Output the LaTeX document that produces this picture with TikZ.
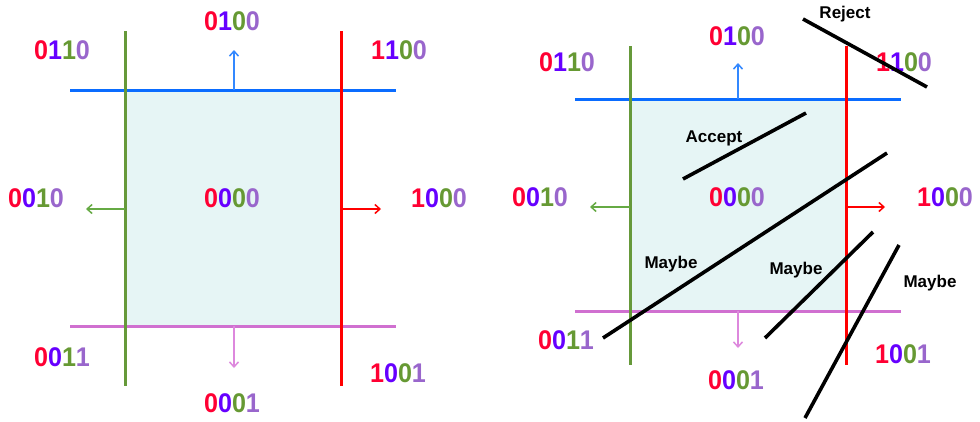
\documentclass[tikz,border=0pt]{standalone}
\usepackage{fontspec}
\setmainfont{Liberation Sans}
\usetikzlibrary{arrows.meta}
\definecolor{cRed}{HTML}{FF0033}
\definecolor{cBlue}{HTML}{6600FF}
\definecolor{cGreen}{HTML}{669933}
\definecolor{cPurple}{HTML}{9966CC}
\definecolor{lGreen}{HTML}{66993A}
\definecolor{lRed}{HTML}{FF0000}
\definecolor{lBlue}{HTML}{0A6CFF}
\definecolor{lPink}{HTML}{D070D0}
\definecolor{aBlue}{HTML}{3388FF}
\definecolor{aPink}{HTML}{DD88DD}
\definecolor{aGreen}{HTML}{66AA44}
\definecolor{regfill}{HTML}{E6F5F5}
\newcommand{\code}[4]{\textcolor{cRed}{#1}\textcolor{cBlue}{#2}\textcolor{cGreen}{#3}\textcolor{cPurple}{#4}}
\begin{document}
\begin{tikzpicture}[x=1pt,y=-1pt,
  codelbl/.style={font=\fontsize{27}{27}\selectfont\bfseries, inner sep=0pt, anchor=center, xscale=0.93},
  wordlbl/.style={font=\fontsize{17}{17}\selectfont\bfseries, inner sep=0pt, anchor=center},
  bound/.style={line width=3pt},
  outarrow/.style={line width=1.5pt, -{Straight Barb[length=5pt,width=9pt]}},
  seg/.style={line width=3.6pt, black}]
\useasboundingbox (0,0) rectangle (980,421);
% ---------- left panel ----------
\fill[regfill] (125,90) rectangle (341,326);
\coordinate (Lgt) at (125,31); \coordinate (Lgb) at (125,386);
\coordinate (Lrt) at (341,31); \coordinate (Lrb) at (341,386);
\coordinate (Lbl) at (70,90); \coordinate (Lbr) at (396,90);
\coordinate (Lpl) at (70,326); \coordinate (Lpr) at (396,326);
\draw[bound,lBlue] (Lbl) -- (Lbr);
\draw[bound,lPink] (Lpl) -- (Lpr);
\draw[bound,lGreen] (Lgt) -- (Lgb);
\draw[bound,lRed] (Lrt) -- (Lrb);
\coordinate (Lua) at (234,90); \coordinate (Lub) at (234,50);
\coordinate (Lda) at (234,326); \coordinate (Ldb) at (234,368);
\coordinate (Lla) at (125,209); \coordinate (Llb) at (86,209);
\coordinate (Lra) at (341,209); \coordinate (Lrb2) at (381,209);
\draw[outarrow,aBlue] (Lua) -- (Lub);
\draw[outarrow,aPink] (Lda) -- (Ldb);
\draw[outarrow,aGreen] (Lla) -- (Llb);
\draw[outarrow,lRed] (Lra) -- (Lrb2);
\node[codelbl] (L0100) at (232,21) {\code0100};
\node[codelbl] (L0110) at (62,50) {\code0110};
\node[codelbl] (L1100) at (399,50) {\code1100};
\node[codelbl] (L0010) at (36,198) {\code0010};
\node[codelbl] (L0000) at (232,198) {\code0000};
\node[codelbl] (L1000) at (439,198) {\code1000};
\node[codelbl] (L0011) at (62,357) {\code0011};
\node[codelbl] (L1001) at (398,373) {\code1001};
\node[codelbl] (L0001) at (232,403) {\code0001};
% ---------- right panel ----------
\fill[regfill] (630,99) rectangle (846,311);
\coordinate (Rgt) at (630,46); \coordinate (Rgb) at (630,365);
\coordinate (Rrt) at (846,46); \coordinate (Rrb) at (846,365);
\coordinate (Rbl) at (575,99); \coordinate (Rbr) at (901,99);
\coordinate (Rpl) at (575,311); \coordinate (Rpr) at (901,311);
\draw[bound,lBlue] (Rbl) -- (Rbr);
\draw[bound,lPink] (Rpl) -- (Rpr);
\draw[bound,lGreen] (Rgt) -- (Rgb);
\draw[bound,lRed] (Rrt) -- (Rrb);
\coordinate (Rua) at (738,99); \coordinate (Rub) at (738,63);
\coordinate (Rda) at (738,311); \coordinate (Rdb) at (738,348);
\coordinate (Rla) at (630,207); \coordinate (Rlb) at (590,207);
\coordinate (Rra) at (846,207); \coordinate (Rrb2) at (885,207);
\draw[outarrow,aBlue] (Rua) -- (Rub);
\draw[outarrow,aPink] (Rda) -- (Rdb);
\draw[outarrow,aGreen] (Rla) -- (Rlb);
\draw[outarrow,lRed] (Rra) -- (Rrb2);
\node[codelbl] (R0100) at (737,36) {\code0100};
\node[codelbl] (R0110) at (567,62) {\code0110};
\node[codelbl] (R0010) at (540,197) {\code0010};
\node[codelbl] (R0000) at (737,197) {\code0000};
\node[codelbl] (R1000) at (945,197) {\code1000};
\node[codelbl] (R0011) at (566,340) {\code0011};
\node[codelbl] (R1001) at (903,354) {\code1001};
\node[codelbl] (R0001) at (736,380) {\code0001};
\node[codelbl] (R1100) at (904,62) {\code1100};
% black segments
\coordinate (s1a) at (803,19); \coordinate (s1b) at (927,87);
\coordinate (s2a) at (683,179); \coordinate (s2b) at (806,113);
\coordinate (s3a) at (887,153); \coordinate (s3b) at (603,338);
\coordinate (s4a) at (873,232); \coordinate (s4b) at (765,338);
\coordinate (s5a) at (899,245); \coordinate (s5b) at (805,418);
\draw[seg] (s1a) -- (s1b);
\draw[seg] (s2a) -- (s2b);
\draw[seg] (s3a) -- (s3b);
\draw[seg] (s4a) -- (s4b);
\draw[seg] (s5a) -- (s5b);
\node[wordlbl] (reject) at (845,14) {Reject};
\node[wordlbl] (accept) at (714,138) {Accept};
\node[wordlbl] (maybe1) at (671,264) {Maybe};
\node[wordlbl] (maybe2) at (796,270) {Maybe};
\node[wordlbl] (maybe3) at (930,283) {Maybe};
\end{tikzpicture}
\end{document}
